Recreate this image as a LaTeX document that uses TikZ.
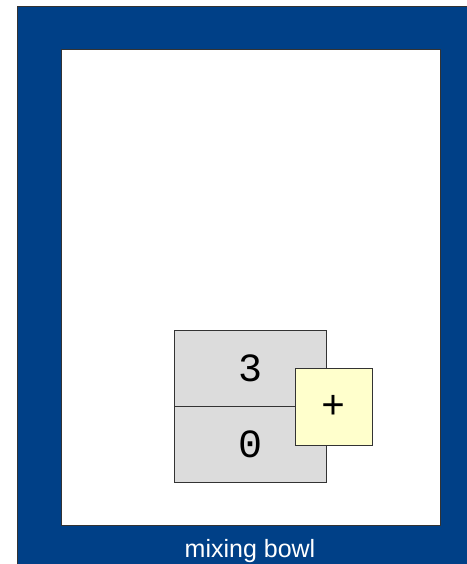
\documentclass[tikz,border=0pt]{standalone}
\usepackage{fontspec}
\newfontfamily\cellfont{Liberation Mono}
\newfontfamily\labelfont{Liberation Sans}
\definecolor{bowlblue}{RGB}{0,64,135}
\definecolor{cellgray}{RGB}{220,220,220}
\definecolor{opyellow}{RGB}{255,255,204}
\tikzset{
  cellbox/.style={draw=black!80, line width=0.8pt, fill=cellgray, minimum width=152pt, minimum height=76pt, inner sep=0pt, font=\cellfont\fontsize{40}{40}\selectfont},
  opbox/.style={draw=black!80, line width=0.8pt, fill=opyellow, minimum width=77pt, minimum height=77pt, inner sep=0pt, font=\cellfont\fontsize{40}{40}\selectfont}
}
\begin{document}
\begin{tikzpicture}[x=1pt, y=-1pt]
  \useasboundingbox (0,0) rectangle (466,564);
  % the bowl
  \draw[fill=bowlblue, draw=black!80, line width=0.8pt] (17,6) rectangle (484,600);
  \draw[fill=white, draw=black!80, line width=0.8pt] (61,49) rectangle (440,525);
  \node[text=white, font=\labelfont\fontsize{25}{25}\selectfont] (bowllabel) at (250,551) {mixing bowl};
  % stack of values
  \node[cellbox] (cellthree) at (250,368.5) {3};
  \node[cellbox] (cellzero) at (250,444.5) {0};
  \node[opbox] (plus) at (333.5,406.5) {+};
\end{tikzpicture}
\end{document}
